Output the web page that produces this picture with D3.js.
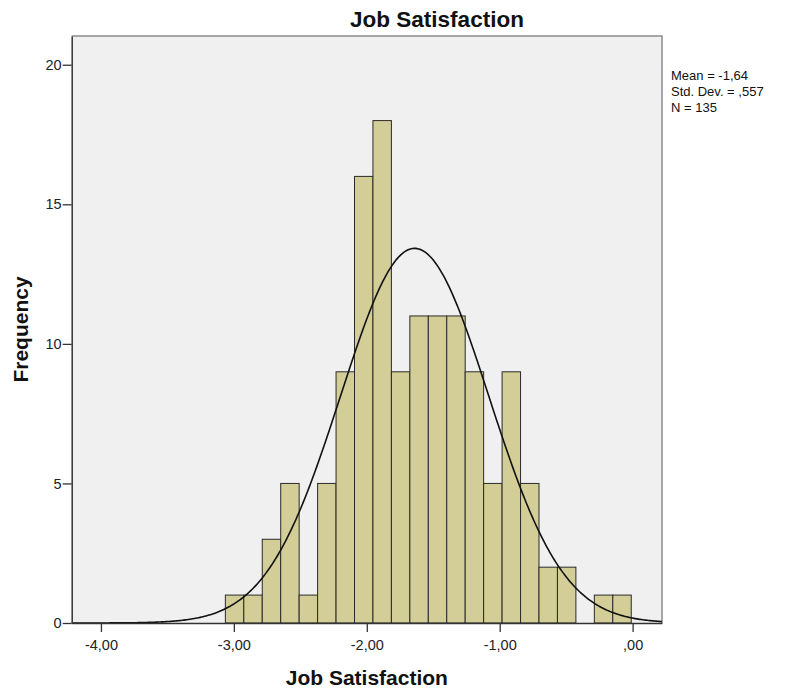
<!DOCTYPE html>
<html>
<head>
<meta charset="utf-8">
<script src="https://cdn.jsdelivr.net/npm/d3@7"></script>
<style>
  html, body { margin: 0; padding: 0; background: #ffffff; }
  svg { display: block; font-family: "Liberation Sans", Arial, sans-serif; }
</style>
</head>
<body>
<div id="chart"></div>
<script>
// ---- data ----
const counts = [1, 1, 3, 5, 1, 5, 9, 16, 18, 9, 11, 11, 11, 9, 5, 9, 5, 2, 2, 0, 1, 1];
const firstBinStart = -3.064;
const binWidth = 0.1388;
const xTicks = [-4, -3, -2, -1, 0];
const yTicks = [0, 5, 10, 15, 20];
const statMean = -1.64;
const statSD = 0.557;
const statN = 135;
const chartTitle = "Job Satisfaction";
const xTitle = "Job Satisfaction";
const yTitle = "Frequency";

// ---- layout ----
const W = 787, H = 694;
const plot = { left: 71.7, top: 36, right: 662, bottom: 623 };

const svg = d3.select("#chart").append("svg").attr("width", W).attr("height", H);

const x = d3.scaleLinear().domain([-4.22, 0.221]).range([plot.left, plot.right]);
const y = d3.scaleLinear().domain([0, 21.03]).range([plot.bottom, plot.top]);

const loc = d3.formatLocale({ decimal: ",", thousands: ".", grouping: [3], currency: ["", ""], minus: "-" });

const bins = counts.map((c, i) => ({
  x0: firstBinStart + i * binWidth,
  x1: firstBinStart + (i + 1) * binWidth,
  count: c
}));

// plot background
svg.append("rect")
  .attr("x", plot.left).attr("y", plot.top)
  .attr("width", plot.right - plot.left).attr("height", plot.bottom - plot.top)
  .attr("fill", "#f0f0f0");

// frame top & right
svg.append("path")
  .attr("d", `M${plot.left},${plot.top}H${plot.right}V${plot.bottom}`)
  .attr("fill", "none").attr("stroke", "#8a8a8a").attr("stroke-width", 1.5);

// bars
svg.append("g").selectAll("rect")
  .data(bins.filter(b => b.count > 0))
  .join("rect")
  .attr("x", d => x(d.x0))
  .attr("y", d => y(d.count))
  .attr("width", d => x(d.x1) - x(d.x0))
  .attr("height", d => y(0) - y(d.count))
  .attr("fill", "#d3ce97")
  .attr("stroke", "#2a2a2a")
  .attr("stroke-width", 1);

// normal curve from the stated mean / sd / N
const scaleFactor = statN * binWidth;
const curvePts = d3.range(0, 401).map(i => {
  const xv = x.domain()[0] + (x.domain()[1] - x.domain()[0]) * i / 400;
  const z = (xv - statMean) / statSD;
  return [xv, scaleFactor * Math.exp(-0.5 * z * z) / (statSD * Math.sqrt(2 * Math.PI))];
});
svg.append("path")
  .datum(curvePts)
  .attr("d", d3.line().x(d => x(d[0])).y(d => y(d[1])))
  .attr("fill", "none").attr("stroke", "#111").attr("stroke-width", 1.6);

// number format SPSS-style: comma decimal, no leading zero
const fmtNum = (v, dec) => {
  const s = loc.format(`.${dec}f`)(v);
  return s.replace(/^0,/, ",").replace(/^-0,/, "-,");
};

const xAxis = svg.append("g")
  .attr("transform", `translate(0,${plot.bottom})`)
  .call(d3.axisBottom(x).tickValues(xTicks).tickFormat(d => fmtNum(d, 2)).tickSize(9).tickSizeOuter(0));
xAxis.select(".domain").attr("stroke", "#333").attr("stroke-width", 1.5);
xAxis.selectAll(".tick line").attr("stroke", "#333").attr("stroke-width", 1.3);
xAxis.selectAll(".tick text")
  .attr("font-family", "'Liberation Sans', Arial, sans-serif")
  .attr("font-size", 14.5).attr("fill", "#222").attr("dy", "1.05em");

const yAxis = svg.append("g")
  .attr("transform", `translate(${plot.left},0)`)
  .call(d3.axisLeft(y).tickValues(yTicks).tickFormat(loc.format("d")).tickSize(9).tickSizeOuter(0));
yAxis.select(".domain").attr("stroke", "#333").attr("stroke-width", 1.5);
yAxis.selectAll(".tick line").attr("stroke", "#333").attr("stroke-width", 1.3);
yAxis.selectAll(".tick text")
  .attr("font-family", "'Liberation Sans', Arial, sans-serif")
  .attr("font-size", 14.5).attr("fill", "#222").attr("x", -10);

// titles
svg.append("text")
  .attr("x", 437).attr("y", 27)
  .attr("text-anchor", "middle")
  .attr("font-size", 22.5).attr("font-weight", "bold").attr("fill", "#111")
  .text(chartTitle);

svg.append("text")
  .attr("x", (plot.left + plot.right) / 2).attr("y", 685)
  .attr("text-anchor", "middle")
  .attr("font-size", 21).attr("font-weight", "bold").attr("fill", "#111")
  .text(xTitle);

svg.append("text")
  .attr("transform", `translate(28,${(plot.top + plot.bottom) / 2}) rotate(-90)`)
  .attr("text-anchor", "middle")
  .attr("font-size", 21).attr("font-weight", "bold").attr("fill", "#111")
  .text(yTitle);

// stats box
const statLines = [
  `Mean = ${fmtNum(statMean, 2)}`,
  `Std. Dev. = ${fmtNum(statSD, 3)}`,
  `N = ${statN}`
];
svg.append("g").selectAll("text")
  .data(statLines)
  .join("text")
  .attr("x", 671)
  .attr("y", (d, i) => 80 + i * 16)
  .attr("font-size", 13).attr("fill", "#111")
  .text(d => d);
</script>
</body>
</html>
